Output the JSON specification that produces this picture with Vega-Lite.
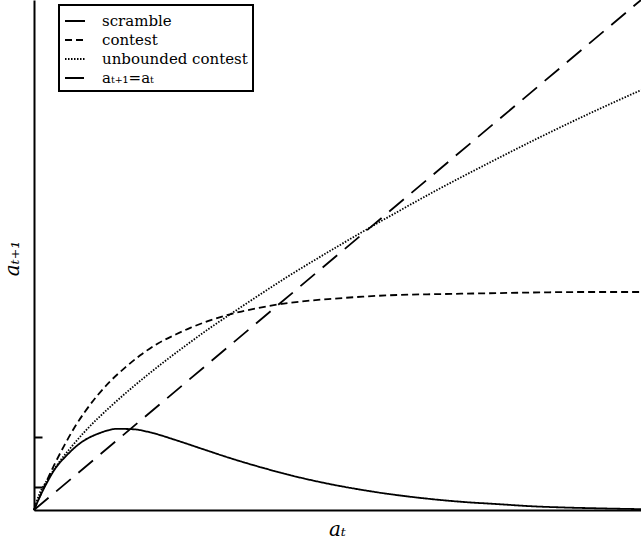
{
  "$schema": "https://vega.github.io/schema/vega-lite/v6.json",
  "width": 607,
  "height": 510,
  "autosize": {"type": "none"},
  "padding": {"left": 34, "top": 0, "right": 0, "bottom": 32},
  "config": {
    "view": {"stroke": null},
    "font": "DejaVu Serif",
    "legend": {"strokeColor": "black", "strokeWidth": 2, "fillColor": "white", "padding": 5, "cornerRadius": 0}
  },
  "data": {
    "values": [
      {"s": "scramble", "x": 0, "y": 0},
      {"s": "scramble", "x": 0.1, "y": 0.27},
      {"s": "scramble", "x": 0.25, "y": 0.63},
      {"s": "scramble", "x": 0.4, "y": 0.94},
      {"s": "scramble", "x": 0.65, "y": 1.29},
      {"s": "scramble", "x": 0.91, "y": 1.57},
      {"s": "scramble", "x": 1.3, "y": 1.81},
      {"s": "scramble", "x": 1.64, "y": 1.91},
      {"s": "scramble", "x": 1.96, "y": 1.9},
      {"s": "scramble", "x": 2.35, "y": 1.81},
      {"s": "scramble", "x": 2.79, "y": 1.65},
      {"s": "scramble", "x": 3.32, "y": 1.44},
      {"s": "scramble", "x": 3.88, "y": 1.22},
      {"s": "scramble", "x": 4.53, "y": 0.99},
      {"s": "scramble", "x": 5.2, "y": 0.78},
      {"s": "scramble", "x": 5.85, "y": 0.61},
      {"s": "scramble", "x": 6.5, "y": 0.47},
      {"s": "scramble", "x": 7.18, "y": 0.35},
      {"s": "scramble", "x": 7.83, "y": 0.26},
      {"s": "scramble", "x": 8.48, "y": 0.19},
      {"s": "scramble", "x": 9.15, "y": 0.14},
      {"s": "scramble", "x": 9.81, "y": 0.09},
      {"s": "scramble", "x": 10.46, "y": 0.06},
      {"s": "scramble", "x": 11.13, "y": 0.04},
      {"s": "scramble", "x": 12, "y": 0.02},
      {"s": "contest", "x": 0, "y": 0},
      {"s": "contest", "x": 0.2, "y": 0.55},
      {"s": "contest", "x": 0.4, "y": 1.06},
      {"s": "contest", "x": 0.6, "y": 1.52},
      {"s": "contest", "x": 0.8, "y": 1.94},
      {"s": "contest", "x": 1.0, "y": 2.3},
      {"s": "contest", "x": 1.25, "y": 2.69},
      {"s": "contest", "x": 1.5, "y": 3.02},
      {"s": "contest", "x": 1.8, "y": 3.35},
      {"s": "contest", "x": 2.1, "y": 3.64},
      {"s": "contest", "x": 2.45, "y": 3.92},
      {"s": "contest", "x": 2.8, "y": 4.13},
      {"s": "contest", "x": 3.1, "y": 4.29},
      {"s": "contest", "x": 3.45, "y": 4.45},
      {"s": "contest", "x": 3.8, "y": 4.58},
      {"s": "contest", "x": 4.1, "y": 4.67},
      {"s": "contest", "x": 4.5, "y": 4.77},
      {"s": "contest", "x": 4.9, "y": 4.85},
      {"s": "contest", "x": 5.4, "y": 4.92},
      {"s": "contest", "x": 5.9, "y": 4.97},
      {"s": "contest", "x": 6.5, "y": 5.02},
      {"s": "contest", "x": 7.2, "y": 5.06},
      {"s": "contest", "x": 8.0, "y": 5.08},
      {"s": "contest", "x": 9.0, "y": 5.1},
      {"s": "contest", "x": 10.0, "y": 5.12},
      {"s": "contest", "x": 11.0, "y": 5.13},
      {"s": "contest", "x": 12, "y": 5.13},
      {"s": "unbounded contest", "x": 0, "y": 0},
      {"s": "unbounded contest", "x": 0.1, "y": 0.36},
      {"s": "unbounded contest", "x": 0.25, "y": 0.68},
      {"s": "unbounded contest", "x": 0.5, "y": 1.13},
      {"s": "unbounded contest", "x": 0.75, "y": 1.5},
      {"s": "unbounded contest", "x": 1.0, "y": 1.84},
      {"s": "unbounded contest", "x": 1.5, "y": 2.42},
      {"s": "unbounded contest", "x": 2.0, "y": 2.94},
      {"s": "unbounded contest", "x": 2.5, "y": 3.42},
      {"s": "unbounded contest", "x": 3.0, "y": 3.87},
      {"s": "unbounded contest", "x": 3.5, "y": 4.3},
      {"s": "unbounded contest", "x": 4.0, "y": 4.7},
      {"s": "unbounded contest", "x": 5.0, "y": 5.48},
      {"s": "unbounded contest", "x": 6.0, "y": 6.2},
      {"s": "unbounded contest", "x": 7.0, "y": 6.89},
      {"s": "unbounded contest", "x": 8.0, "y": 7.55},
      {"s": "unbounded contest", "x": 9.0, "y": 8.17},
      {"s": "unbounded contest", "x": 10.0, "y": 8.77},
      {"s": "unbounded contest", "x": 11.0, "y": 9.34},
      {"s": "unbounded contest", "x": 12, "y": 9.88},
      {"s": "aₜ₊₁=aₜ", "x": 0, "y": 0},
      {"s": "aₜ₊₁=aₜ", "x": 12, "y": 12}
    ]
  },
  "mark": {"type": "line", "interpolate": "monotone", "color": "black", "strokeWidth": 1.8},
  "encoding": {
    "x": {
      "field": "x",
      "type": "quantitative",
      "scale": {"domain": [0, 12], "nice": false},
      "axis": {
        "title": "aₜ",
        "titleFont": "DejaVu Serif",
        "titleFontStyle": "italic",
        "titleFontWeight": "normal",
        "titleFontSize": 20,
        "titleColor": "black",
        "titleX": 303,
        "titleY": 25,
        "titleBaseline": "alphabetic",
        "titleAlign": "center",
        "labels": false,
        "ticks": false,
        "grid": false,
        "domainColor": "black",
        "domainWidth": 2
      }
    },
    "y": {
      "field": "y",
      "type": "quantitative",
      "scale": {"domain": [0, 12], "nice": false},
      "axis": {
        "title": "aₜ₊₁",
        "titleFont": "DejaVu Serif",
        "titleFontStyle": "italic",
        "titleFontWeight": "normal",
        "titleFontSize": 20,
        "titleColor": "black",
        "titleAngle": -90,
        "titleX": -16,
        "titleY": 258,
        "titleBaseline": "alphabetic",
        "titleAlign": "center",
        "values": [0.54, 1.72],
        "labels": false,
        "ticks": true,
        "tickSize": -8,
        "tickWidth": 2,
        "tickColor": "black",
        "grid": false,
        "domainColor": "black",
        "domainWidth": 2
      }
    },
    "strokeDash": {
      "field": "s",
      "type": "nominal",
      "scale": {
        "domain": ["scramble", "contest", "unbounded contest", "aₜ₊₁=aₜ"],
        "range": [[1, 0], [7, 4], [1.5, 1.5], [19, 10]]
      },
      "legend": {
        "title": null,
        "orient": "none",
        "legendX": 25,
        "legendY": 5,
        "symbolType": "stroke",
        "symbolSize": 400,
        "symbolStrokeWidth": 2,
        "symbolStrokeColor": "black",
        "labelFont": "DejaVu Serif",
        "labelFontSize": 15,
        "labelColor": "black",
        "labelOffset": 16,
        "labelLimit": 300,
        "rowPadding": 0
      }
    }
  }
}
